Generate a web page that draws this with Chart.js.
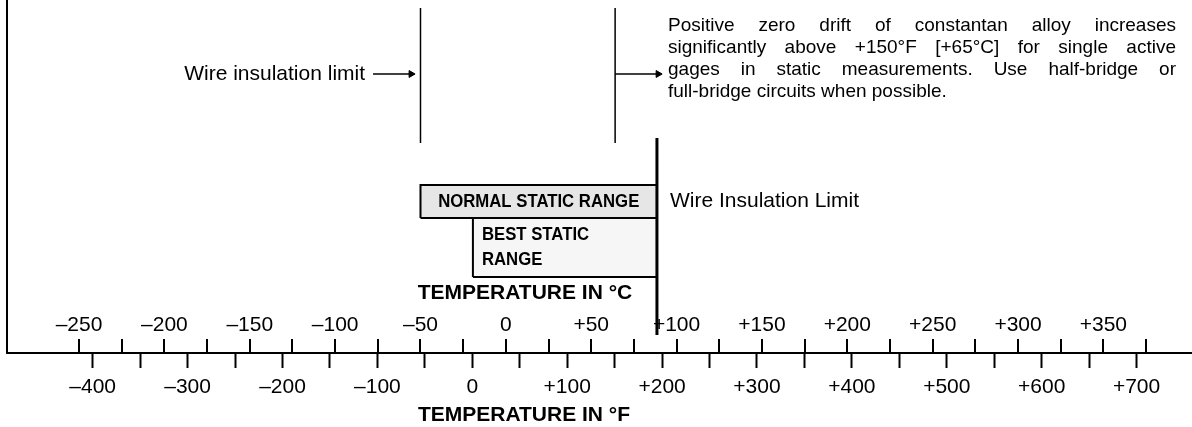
<!DOCTYPE html>
<html lang="en">
<head>
  <meta charset="UTF-8">
  <title>Strain gage temperature ranges</title>
  <script src="https://cdn.jsdelivr.net/npm/chart.js"></script>
  <style>
    * { margin: 0; padding: 0; }
    body { background: #fff; overflow: hidden; }
    #wrap { width: 1192px; height: 427px; }
  </style>
</head>
<body>
  <div id="wrap"><canvas id="chart" width="1192" height="427"></canvas></div>

  <script>
    // scale ticks (°C above the axis line, °F below it)
    const celsiusTicks = [-250, -225, -200, -175, -150, -125, -100, -75, -50, -25, 0, 25, 50, 75,
                          100, 125, 150, 175, 200, 225, 250, 275, 300, 325, 350, 375];
    const celsiusLabeled = [-250, -200, -150, -100, -50, 0, 50, 100, 150, 200, 250, 300, 350];
    const fahrenheitTicks = [-400, -350, -300, -250, -200, -150, -100, -50, 0, 50, 100, 150, 200,
                             250, 300, 350, 400, 450, 500, 550, 600, 650, 700];
    const fahrenheitLabeled = [-400, -300, -200, -100, 0, 100, 200, 300, 400, 500, 600, 700];

    // ranges, in °C
    const normalRange = [-50, 88.5];
    const bestRange = [-19.3, 88.5];
    const wireLimit = 88.5;
    const upperMarkers = [-50, 64];   // wire insulation limit / +65°C drift note

    // rows of the diagram (height above axis line)
    const rows = { normal: [135, 168], best: [76, 135], limit: [18, 215], markers: [210, 345], arrow: 279 };

    const noteLines = [
      'Positive zero drift of constantan alloy increases',
      'significantly above +150°F [+65°C] for single active',
      'gages in static measurements. Use half-bridge or',
      'full-bridge circuits when possible.'
    ];

    const FONT = '"Liberation Sans", Arial, Helvetica, sans-serif';

    function signed(v) {
      if (v === 0) return '0';
      return (v > 0 ? '+' : '\u2013') + Math.abs(v);
    }

    function box(r, lo, hi) {
      return [{x: r[0], y: lo}, {x: r[1], y: lo}, {x: r[1], y: hi}, {x: r[0], y: hi}, {x: r[0], y: lo}];
    }

    const lineDs = (data, width) => ({
      data, borderColor: '#000', borderWidth: width, pointRadius: 0, fill: false, tension: 0
    });

    const arrowDs = (x0, x1) => ({
      data: [{x: x0, y: rows.arrow}, {x: x1, y: rows.arrow}],
      borderColor: '#000', borderWidth: 1.5, tension: 0, fill: false,
      pointRadius: [0, 4], pointStyle: 'triangle', pointRotation: 90,
      pointBackgroundColor: '#000', pointBorderColor: '#000', pointBorderWidth: 1
    });

    const datasets = [
      lineDs([{x: wireLimit, y: rows.limit[0]}, {x: wireLimit, y: rows.limit[1]}], 3),
      arrowDs(-77.8, -55.5),
      arrowDs(upperMarkers[1], 89.2),
      lineDs([{x: upperMarkers[0], y: rows.markers[0]}, {x: upperMarkers[0], y: rows.markers[1]}], 1.5),
      lineDs([{x: upperMarkers[1], y: rows.markers[0]}, {x: upperMarkers[1], y: rows.markers[1]}], 1.5),
      { data: box(normalRange, rows.normal[0], rows.normal[1]), borderColor: '#000', borderWidth: 2,
        backgroundColor: '#e6e6e6', fill: 'shape', pointRadius: 0, tension: 0 },
      { data: box(bestRange, rows.best[0], rows.best[1]), borderColor: '#000', borderWidth: 2,
        backgroundColor: '#f6f6f6', fill: 'shape', pointRadius: 0, tension: 0 }
    ];

    // celsius ticks sit above the line, drawn under the datasets
    const celsiusAxis = {
      id: 'celsiusAxis',
      beforeDatasetsDraw(chart) {
        const {ctx, scales: {x, y}} = chart;
        const base = y.getPixelForValue(0);
        ctx.save();
        ctx.strokeStyle = '#000';
        ctx.lineWidth = 2;
        celsiusTicks.forEach(v => {
          const px = Math.round(x.getPixelForValue(v));
          ctx.beginPath();
          ctx.moveTo(px, base);
          ctx.lineTo(px, base - 14);
          ctx.stroke();
        });
        ctx.fillStyle = '#000';
        ctx.font = '21px ' + FONT;
        ctx.textAlign = 'center';
        ctx.textBaseline = 'middle';
        celsiusLabeled.forEach(v => ctx.fillText(signed(v), x.getPixelForValue(v), base - 28));
        ctx.restore();
      }
    };

    const labels = {
      id: 'labels',
      afterDatasetsDraw(chart) {
        const {ctx, scales: {x, y}} = chart;
        ctx.save();
        ctx.fillStyle = '#000';
        ctx.textBaseline = 'middle';

        // box captions (condensed bold)
        const cond = (txt, px, py, align) => {
          ctx.save();
          ctx.translate(px, py);
          ctx.scale(0.93, 1);
          ctx.textAlign = align;
          ctx.fillText(txt, 0, 0);
          ctx.restore();
        };
        ctx.font = 'bold 18px ' + FONT;
        const nMid = (x.getPixelForValue(normalRange[0]) + x.getPixelForValue(normalRange[1])) / 2;
        cond('NORMAL STATIC RANGE', nMid, y.getPixelForValue((rows.normal[0] + rows.normal[1]) / 2) + 1, 'center');
        const bx = x.getPixelForValue(bestRange[0]) + 9;
        cond('BEST STATIC', bx, y.getPixelForValue(rows.best[1]) + 17, 'left');
        cond('RANGE', bx, y.getPixelForValue(rows.best[1]) + 42, 'left');

        // axis titles
        ctx.font = 'bold 21px ' + FONT;
        ctx.textAlign = 'center';
        ctx.fillText('TEMPERATURE IN °C', 525, 293);
        ctx.fillText('TEMPERATURE IN °F', 524, 415);

        // annotations
        ctx.font = '21px ' + FONT;
        ctx.textAlign = 'left';
        ctx.fillText('Wire Insulation Limit', x.getPixelForValue(wireLimit) + 13, y.getPixelForValue((rows.normal[0] + rows.normal[1]) / 2));
        ctx.textAlign = 'right';
        ctx.fillText('Wire insulation limit', x.getPixelForValue(-77.8) - 8, y.getPixelForValue(rows.arrow));

        // justified note
        ctx.font = '19px ' + FONT;
        ctx.textAlign = 'left';
        const left = 668, right = 1176, top = 26, lh = 22;
        noteLines.forEach((line, i) => {
          const ly = top + i * lh;
          if (i === noteLines.length - 1) { ctx.fillText(line, left, ly); return; }
          const words = line.split(' ');
          const wsum = words.reduce((s, w) => s + ctx.measureText(w).width, 0);
          const gap = (right - left - wsum) / (words.length - 1);
          let cx = left;
          words.forEach(w => { ctx.fillText(w, cx, ly); cx += ctx.measureText(w).width + gap; });
        });
        ctx.restore();
      }
    };

    new Chart(document.getElementById('chart'), {
      type: 'line',
      data: { datasets },
      options: {
        responsive: false,
        animation: false,
        devicePixelRatio: 1,
        layout: { padding: 0, autoPadding: false },
        plugins: { legend: { display: false }, tooltip: { enabled: false } },
        scales: {
          x: { type: 'linear', display: false, min: -292.2, max: 401.9 },
          xf: {
            type: 'linear', position: 'bottom', min: -490.3, max: 758.4,
            afterBuildTicks: s => { s.ticks = fahrenheitTicks.map(v => ({ value: v })); },
            afterFit: s => { s.height = 74; },
            grid: { drawOnChartArea: false, color: '#000', tickLength: 15, tickWidth: 2 },
            border: { display: true, color: '#000', width: 2 },
            ticks: {
              color: '#000', padding: 7, maxRotation: 0, autoSkip: false,
              font: { family: FONT, size: 21 },
              callback: v => fahrenheitLabeled.includes(v) ? signed(v) : ''
            }
          },
          y: {
            type: 'linear', min: 0, max: 353,
            afterFit: s => { s.width = 7; },
            grid: { drawOnChartArea: false, drawTicks: false },
            border: { display: true, color: '#000', width: 2 },
            ticks: { display: false }
          }
        }
      },
      plugins: [celsiusAxis, labels]
    });
  </script>
</body>
</html>
